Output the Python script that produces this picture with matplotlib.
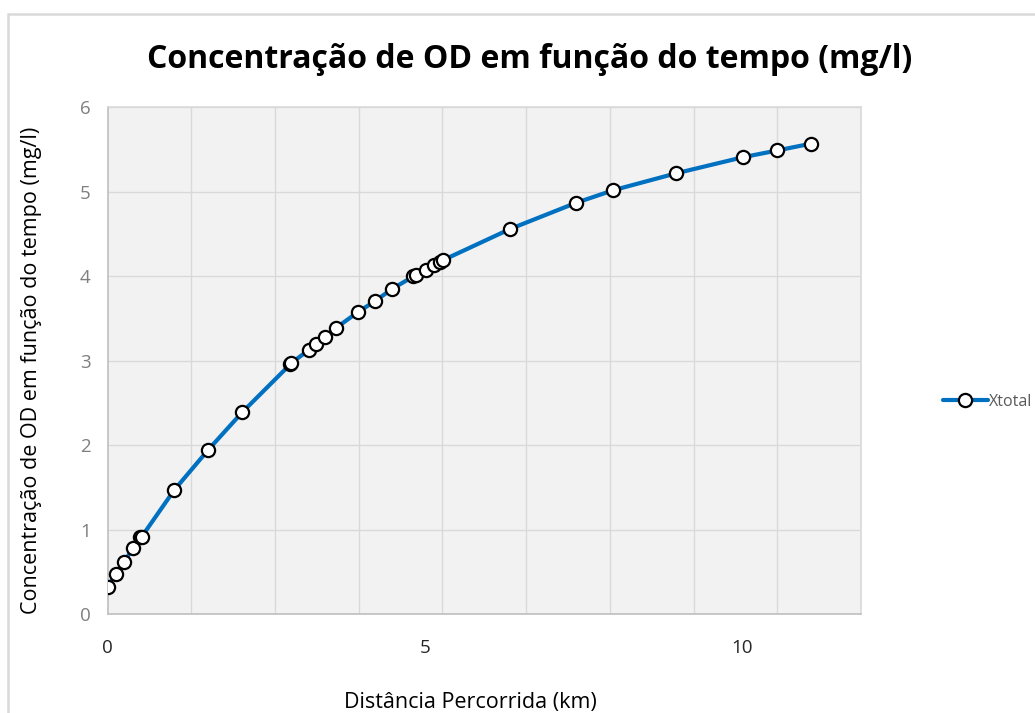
import numpy as np
import matplotlib
matplotlib.use("Agg")
import matplotlib.pyplot as plt
import matplotlib.ticker as mticker

# distancia percorrida (km) e concentracao de OD (mg/l)
distancia = [0.00, 0.13, 0.26, 0.40, 0.51, 0.54, 1.05, 1.59, 2.12, 2.88, 2.89,
             3.17, 3.29, 3.43, 3.60, 3.95, 4.22, 4.48, 4.82, 4.86, 5.01, 5.14,
             5.23, 5.28, 6.34, 7.38, 7.97, 8.96, 10.01, 10.55, 11.08]
xtotal = [0.32, 0.48, 0.62, 0.78, 0.91, 0.92, 1.47, 1.95, 2.39, 2.96, 2.97,
          3.13, 3.20, 3.28, 3.39, 3.58, 3.71, 3.85, 4.00, 4.02, 4.08, 4.13,
          4.17, 4.19, 4.56, 4.87, 5.02, 5.22, 5.41, 5.49, 5.57]

x_ticks = [0, 5, 10]
y_ticks = [0, 1, 2, 3, 4, 5, 6]
x_max = 11.87

titulo = "Concentração de OD em função do tempo (mg/l)"

plt.rcParams['font.family'] = ['Open Sans', 'DejaVu Sans']

fig = plt.figure(figsize=(10.35, 7.13), dpi=100)
ax = fig.add_axes([0.1039, 0.1384, 0.728, 0.711])
ax.set_facecolor('#f2f2f2')

ax.plot(distancia, xtotal, '-o', color='#0070c0', linewidth=3,
        markersize=9.5, markerfacecolor='white', markeredgecolor='black',
        markeredgewidth=1.6, solid_capstyle='round', label='Xtotal', zorder=3)

ax.set_xlim(0, x_max)
ax.set_ylim(0, 6)
ax.set_xticks(x_ticks)
ax.set_yticks(y_ticks)
ax.xaxis.set_minor_locator(mticker.FixedLocator(np.linspace(0, x_max, 10)))
ax.grid(which='minor', axis='x', color='#d9d9d9', linewidth=1.0)
ax.grid(which='major', axis='y', color='#d9d9d9', linewidth=1.0)
ax.set_axisbelow(True)

ax.tick_params(axis='x', which='both', length=0, pad=18, labelsize=13.5, labelcolor='#262626')
ax.tick_params(axis='y', length=0, pad=12, labelsize=13.5, labelcolor='#7f7f7f')

for s in ['top', 'right']:
    ax.spines[s].set_color('#d9d9d9')
for s in ['left', 'bottom']:
    ax.spines[s].set_color('#bfbfbf')
for s in ax.spines.values():
    s.set_linewidth(1.2)

ax.set_xlabel('Distância Percorrida (km)', fontsize=15.5, color='#000000')
ax.xaxis.set_label_coords(0.481, -0.154)
ax.set_ylabel(titulo, fontsize=15.5, color='#000000')
ax.yaxis.set_label_coords(-0.087, 0.482)

fig.text(530 / 1035, 1 - 60 / 713, titulo, ha='center', va='center',
         fontsize=23, fontweight='bold')

ax.legend(loc='center left', bbox_to_anchor=(943 / 1035, 1 - 402 / 713),
          bbox_transform=fig.transFigure, frameon=False, handlelength=2.8,
          handletextpad=0.1, fontsize=11.5, labelcolor='#595959', borderpad=0,
          borderaxespad=0)

# moldura do grafico
border = plt.Rectangle((8 / 1035, -0.01), 1.1, 1 - 14 / 713 + 0.01,
                       transform=fig.transFigure, fill=False,
                       edgecolor='#d9d9d9', linewidth=1.8)
fig.patches.append(border)

fig.savefig('out.png', dpi=100)
